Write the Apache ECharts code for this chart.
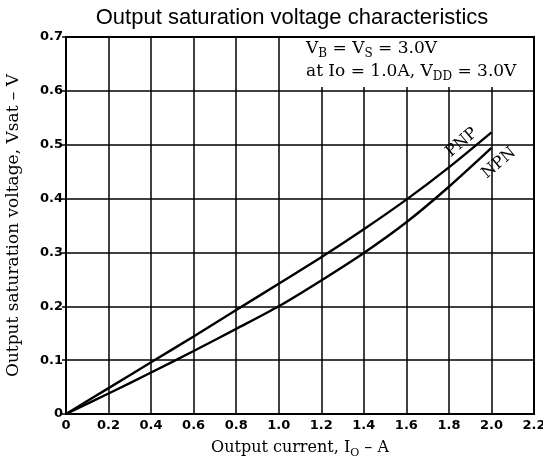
<!DOCTYPE html>
<html><head><meta charset="utf-8">
<script src="https://cdn.jsdelivr.net/npm/echarts@6/dist/echarts.min.js"></script>
<style>html,body{margin:0;padding:0;background:#fff}#c{width:543px;height:466px}</style>
</head><body><div id="c"></div>
<script>
const currentA = [0, 0.2, 0.4, 0.6, 0.8, 1.0, 1.2, 1.4, 1.6, 1.8, 2.0];
const pnpV = [0, 0.048, 0.096, 0.144, 0.193, 0.242, 0.291, 0.343, 0.398, 0.458, 0.523];
const npnV = [0, 0.038, 0.077, 0.117, 0.158, 0.2, 0.248, 0.299, 0.356, 0.422, 0.494];
const xTicks = [0, 0.2, 0.4, 0.6, 0.8, 1.0, 1.2, 1.4, 1.6, 1.8, 2.0, 2.2];
const yTicks = [0, 0.1, 0.2, 0.3, 0.4, 0.5, 0.6, 0.7];
const labelPos = { PNP: [1.86, 0.504], NPN: [2.035, 0.466] };

const chart = echarts.init(document.getElementById('c'), null, {renderer: 'canvas'});
const serif = 'DejaVu Serif';
const sans = 'Liberation Sans';
const tickFont = 'DejaVu Sans';
function mk(name, vals, lp) {
  return {
    type: 'line', name: name, smooth: 0.3, symbol: 'none',
    data: currentA.map((x, i) => [x, vals[i]]),
    lineStyle: {color: '#000', width: 2.4},
    markPoint: {
      symbol: 'circle', symbolSize: 0,
      data: [{coord: lp, value: name}],
      label: {show: true, position: 'inside', formatter: name, rotate: 40,
        color: '#000', fontFamily: serif, fontSize: 16}
    },
    z: 5
  };
}
const fmt = v => v === 0 ? '0' : v.toFixed(1);
chart.setOption({
  animation: false,
  title: {
    text: 'Output saturation voltage characteristics',
    left: 287, top: 2, textAlign: 'center',
    textStyle: {fontFamily: sans, fontSize: 22, fontWeight: 'normal', color: '#000'}
  },
  grid: {left: 66, right: 9, top: 37, bottom: 52, outerBoundsMode: 'none', containLabel: false,
    show: true, borderColor: '#000', borderWidth: 2, backgroundColor: 'transparent', z: 3},
  xAxis: {
    type: 'value', min: xTicks[0], max: xTicks[xTicks.length - 1], interval: 0.2,
    name: '{n|Output current, I}{s|O}{n| – A}', nameLocation: 'middle', nameGap: 26,
    nameTextStyle: {rich: {
      n: {fontFamily: serif, fontSize: 16, color: '#000', verticalAlign: 'top'},
      s: {fontFamily: serif, fontSize: 11, color: '#000', verticalAlign: 'top', padding: [8, 0, 0, 0]}
    }},
    axisLine: {show: true, lineStyle: {color: '#000', width: 2}},
    axisTick: {show: false},
    splitLine: {show: true, lineStyle: {color: '#000', width: 1.5}},
    axisLabel: {color: '#000', fontFamily: tickFont, fontWeight: 'bold', fontSize: 13, margin: 5, formatter: fmt}
  },
  yAxis: {
    type: 'value', min: yTicks[0], max: yTicks[yTicks.length - 1], interval: 0.1,
    name: 'Output saturation voltage, Vsat – V', nameLocation: 'middle', nameGap: 44,
    nameTextStyle: {fontFamily: serif, fontSize: 17, color: '#000'},
    axisLine: {show: true, lineStyle: {color: '#000', width: 2}},
    axisTick: {show: true, length: 4, lineStyle: {color: '#000', width: 1.5}},
    splitLine: {show: true, lineStyle: {color: '#000', width: 1.5}},
    axisLabel: {color: '#000', fontFamily: tickFont, fontWeight: 'bold', fontSize: 13, margin: 3, formatter: fmt}
  },
  graphic: [{
    type: 'text', left: 300, top: 38, z: 10,
    style: {
      text: '{n|V}{s|B}{n| = V}{s|S}{n| = 3.0V}\n{n|at Io = 1.0A, V}{s|DD}{n| = 3.0V}',
      backgroundColor: '#fff', padding: [0, 4, 3, 6],
      rich: {
        n: {fontFamily: serif, fontSize: 17, color: '#000', lineHeight: 23, verticalAlign: 'top', padding: [2,0,0,0]},
        s: {fontFamily: serif, fontSize: 12, color: '#000', lineHeight: 23, verticalAlign: 'top', padding: [10, 0, 0, 0]}
      }
    }
  }],
  series: [mk('PNP', pnpV, labelPos.PNP), mk('NPN', npnV, labelPos.NPN)]
});
</script></body></html>
